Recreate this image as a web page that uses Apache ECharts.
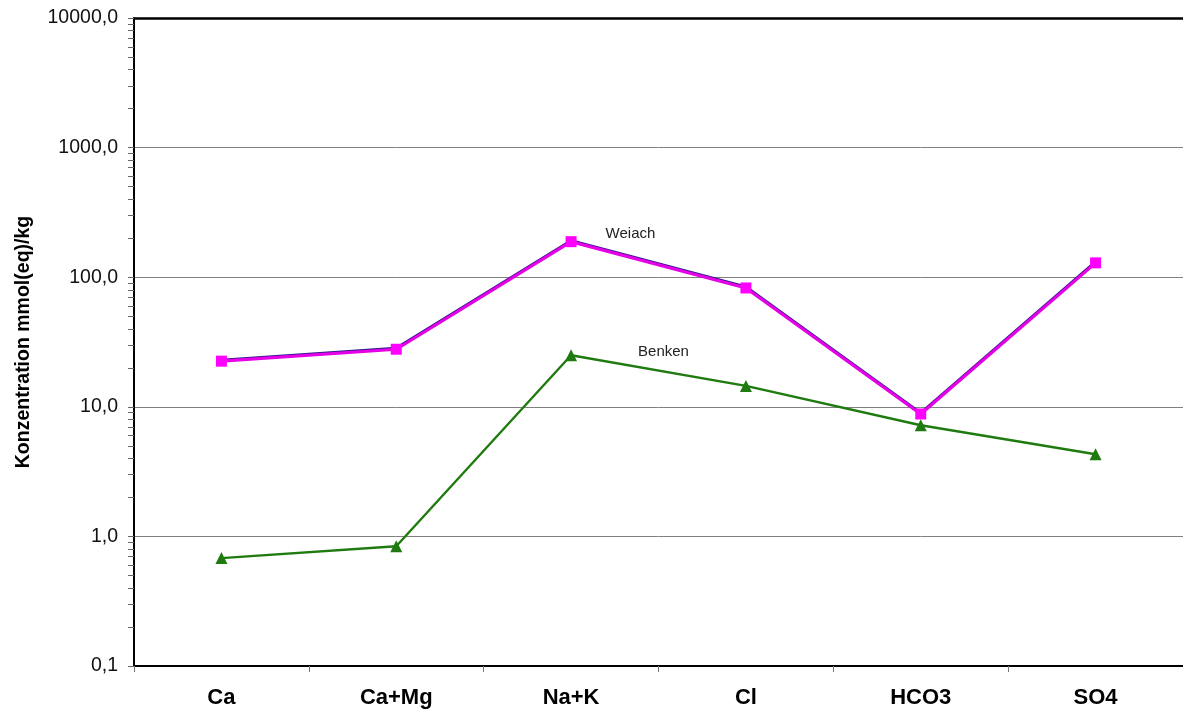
<!DOCTYPE html>
<html>
<head>
<meta charset="utf-8">
<title>Konzentration</title>
<script src="https://cdn.jsdelivr.net/npm/echarts@6/dist/echarts.min.js"></script>
<style>
  html, body { margin: 0; padding: 0; background: #fff; }
  #chart { width: 1183px; height: 713px; }
</style>
</head>
<body>
<div id="chart"></div>
<script>
// Ion categories along the x axis
const categories = ['Ca', 'Ca+Mg', 'Na+K', 'Cl', 'HCO3', 'SO4'];

// Concentrations in mmol(eq)/kg
const weiach = [22.5, 27.8, 188, 82.6, 8.8, 129];
const benken = [0.68, 0.84, 25, 14.5, 7.2, 4.3];

// Decade tick values and the 2..9 subdivisions inside each decade
const decadeTicks = [0.1, 1, 10, 100, 1000, 10000];
const logTicks = [];
for (let d = 0; d < decadeTicks.length; d++) {
  logTicks.push(decadeTicks[d]);
  if (d < decadeTicks.length - 1) {
    for (let m = 2; m <= 9; m++) logTicks.push(+(decadeTicks[d] * m).toPrecision(3));
  }
}

const chart = echarts.init(document.getElementById('chart'), null, { renderer: 'canvas' });

const fontFamily = 'Liberation Sans, Arial, Helvetica, sans-serif';

chart.setOption({
  animation: false,
  backgroundColor: '#ffffff',
  grid: { left: 134, right: -1, top: 18, bottom: 47, containLabel: false },
  xAxis: [
    {
      type: 'category',
      data: categories,
      boundaryGap: true,
      axisLine: { show: true, lineStyle: { color: '#000', width: 2 } },
      axisTick: { show: true, length: 6, lineStyle: { color: '#777', width: 1 } },
      axisLabel: {
        color: '#000', fontSize: 22, fontWeight: 'bold', fontFamily: fontFamily, margin: 21
      },
      splitLine: { show: false }
    },
    {
      type: 'category',
      data: categories,
      position: 'top',
      axisLine: { show: true, lineStyle: { color: '#000', width: 2.5 } },
      axisTick: { show: false },
      axisLabel: { show: false },
      splitLine: { show: false }
    }
  ],
  yAxis: [
    {
      // main logarithmic axis: decade labels and grid lines
      type: 'log',
      logBase: 10,
      min: 0.1,
      max: 10000,
      name: 'Konzentration mmol(eq)/kg',
      nameLocation: 'middle',
      nameGap: 100,
      nameTextStyle: { color: '#000', fontSize: 19.5, fontWeight: 'bold', fontFamily: fontFamily },
      axisLine: { show: true, lineStyle: { color: '#000', width: 2 } },
      axisTick: { show: true, length: 6, lineStyle: { color: '#666', width: 1 } },
      axisLabel: {
        color: '#111', fontSize: 19.5, fontFamily: fontFamily, margin: 16,
        formatter: function (v) { return Number(v).toFixed(1).replace('.', ','); }
      },
      splitLine: { show: true, lineStyle: { color: '#808080', width: 1 } }
    },
    {
      // companion axis carrying the 2..9 subdivision ticks
      type: 'log',
      logBase: 10,
      min: 0.1,
      max: 10000,
      position: 'left',
      axisLine: { show: false },
      axisTick: {
        show: true, length: 6, customValues: logTicks,
        lineStyle: { color: '#666', width: 1 }
      },
      axisLabel: { show: false },
      splitLine: { show: false }
    }
  ],
  series: [
    {
      name: 'Benken',
      type: 'line',
      yAxisIndex: 0,
      data: benken.map(function (v, i) {
        if (categories[i] === 'Na+K') {
          return {
            value: v,
            label: {
              show: true, position: 'right', offset: [56, -3],
              formatter: 'Benken', color: '#222', fontSize: 15, fontFamily: fontFamily
            }
          };
        }
        return v;
      }),
      symbol: 'triangle',
      symbolSize: 12,
      itemStyle: { color: '#1f7a0f' },
      lineStyle: { color: '#1f7a0f', width: 2.4 },
      z: 2
    },
    {
      name: 'Weiach',
      type: 'line',
      yAxisIndex: 0,
      data: weiach.map(function (v, i) {
        if (categories[i] === 'Na+K') {
          return {
            value: v,
            label: {
              show: true, position: 'right', offset: [24, -8],
              formatter: 'Weiach', color: '#222', fontSize: 15, fontFamily: fontFamily
            }
          };
        }
        return v;
      }),
      symbol: 'rect',
      symbolSize: 11,
      itemStyle: { color: '#ff00ff' },
      lineStyle: {
        color: '#e600e6', width: 3.2,
        shadowColor: '#2a1a8c', shadowBlur: 0, shadowOffsetX: 0, shadowOffsetY: -0.8
      },
      z: 3
    }
  ]
});
</script>
</body>
</html>
